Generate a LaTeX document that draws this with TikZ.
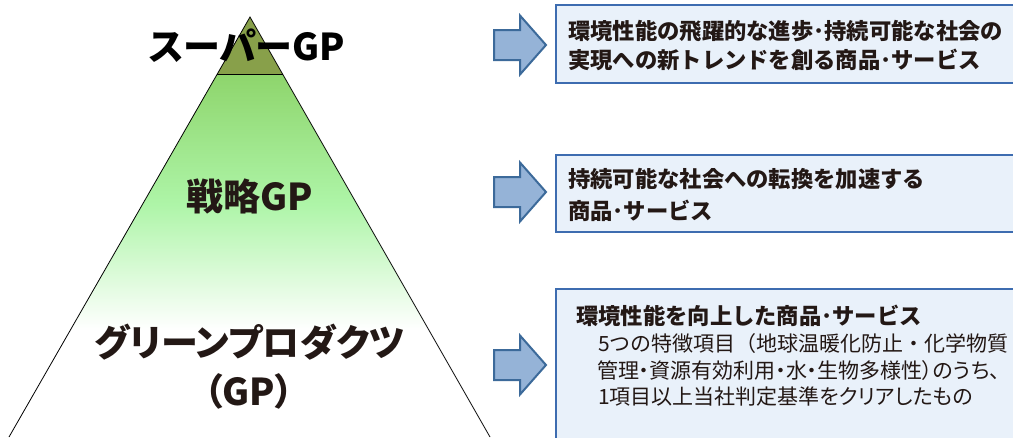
\documentclass[tikz,border=0pt]{standalone}
\usepackage{fontspec}
\newfontfamily\jp{Noto Sans CJK JP}
\newfontfamily\jpp[RawFeature=+palt]{Noto Sans CJK JP}
\definecolor{olivetop}{HTML}{88A04A}
\definecolor{gtop}{HTML}{8ED56C}
\definecolor{gmid}{HTML}{AEF5A8}
\definecolor{boxfill}{HTML}{E9F1FA}
\definecolor{boxline}{HTML}{3D6CB0}
\definecolor{arrfill}{HTML}{95B3D7}
\definecolor{arrline}{HTML}{3C6A9A}
\definecolor{ink}{HTML}{231815}
\tikzset{
  pics/fatarr/.style={code={
    \draw[fatarrow] (-26,-15) -- (0,-15) -- (0,-29.5) -- (26,0) -- (0,29.5) -- (0,15) -- (-26,15) -- cycle;}}
}
\begin{document}
\begin{tikzpicture}[x=1pt,y=-1pt,
  big/.style={font=\jpp\bfseries\fontsize{37}{42}\selectfont, text=ink, inner sep=0, anchor=base},
  bline/.style={font=\jp\bfseries\fontsize{22.3}{26}\selectfont, text=ink, inner sep=0, anchor=base west},
  rline/.style={font=\jp\fontsize{21}{26}\selectfont, text=ink, inner sep=0, anchor=base west},
  pline/.style={font=\jpp\fontsize{21}{26}\selectfont, text=ink, inner sep=0, anchor=base west},
  infobox/.style={draw=boxline, fill=boxfill, line width=1.4pt},
  fatarrow/.style={draw=arrline, fill=arrfill, line width=2pt, line join=miter}]
\useasboundingbox (0,0) rectangle (1013,437);
\begin{scope}
\clip (0,0) rectangle (1013,437);
\coordinate (apex) at (250,17);
\coordinate (bl) at (9,437);
\coordinate (br) at (490,437);
\coordinate (dl) at (217.4,74);
\coordinate (dr) at (282.6,74);
\begin{scope}
\clip (apex) -- (bl) -- (br) -- cycle;
\fill[olivetop] (200,0) rectangle (300,74);
\shade[top color=gtop, bottom color=gmid] (0,74) rectangle (500,205);
\shade[top color=gmid, bottom color=white] (0,204.5) rectangle (500,330);
\end{scope}
\draw[line width=0.8pt] (dl) -- (dr);
\draw[line width=0.8pt] (bl) -- (apex) -- (br);
\node[big, text=black] (super) at (247,60.5) {スーパーGP};
\node[big] (senryaku) at (250,210) {戦略GP};
\node[big] (green) at (250,356) {グリーンプロダクツ};
\node[big] (gp) at (249,405) {（GP）};
\draw[infobox] (556,5) rectangle (1030,83);
\draw[infobox] (556,155) rectangle (1030,232);
\draw[infobox] (556,289) rectangle (1030,460);
\pic at (520,45) {fatarr};
\pic at (520,192) {fatarr};
\pic at (520,365) {fatarr};
\node[bline] (t1a) at (568,39.5) {環境性能の飛躍的な進歩･持続可能な社会の};
\node[bline] (t1b) at (568,68.5) {実現への新トレンドを創る商品･サービス};
\node[bline] (t2a) at (568,187.5) {持続可能な社会への転換を加速する};
\node[bline] (t2b) at (568,219.5) {商品･サービス};
\node[bline] (t3a) at (576,324.5) {環境性能を向上した商品･サービス};
\node[rline] (t3b) at (598,351) {5つの特徴項目（地球温暖化防止・化学物質};
\node[pline] (t3c) at (597,378) {管理・資源有効利用・水・生物多様性）のうち、};
\node[pline] (t3d) at (598,404) {1項目以上当社判定基準をクリアしたもの};
\end{scope}
\end{tikzpicture}
\end{document}
